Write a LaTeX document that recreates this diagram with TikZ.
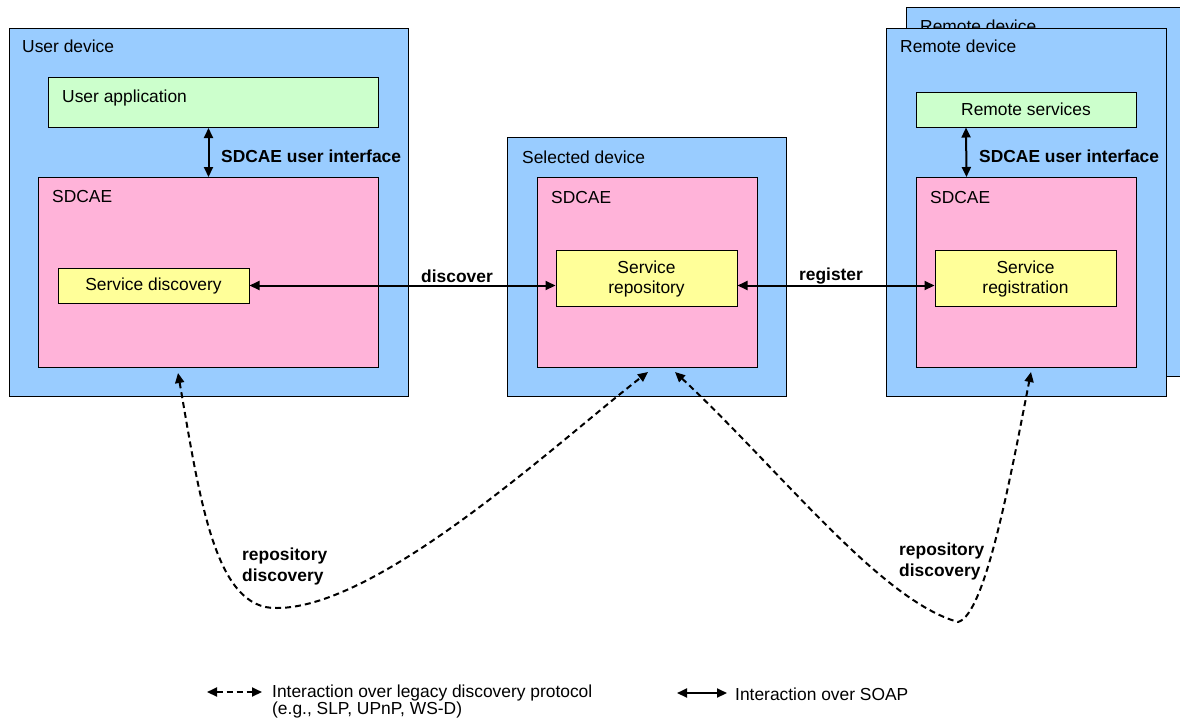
\documentclass[tikz,border=0pt]{standalone}
\usepackage{fontspec}
\setmainfont{Liberation Sans}
\usetikzlibrary{arrows.meta}

\definecolor{devblue}{HTML}{99CCFF}
\definecolor{sdpink}{HTML}{FFB3D9}
\definecolor{appgreen}{HTML}{CCFFCC}
\definecolor{svcyellow}{HTML}{FFFF99}

\newcommand{\diagfont}{\fontsize{17.4}{20.5}\selectfont}

\tikzset{
  box/.style={draw,rectangle,line width=1pt,inner sep=0pt},
  devbox/.style={box,fill=devblue,anchor=north west},
  sdbox/.style={box,fill=sdpink,anchor=north west},
  appbox/.style={box,fill=appgreen},
  svcbox/.style={box,fill=svcyellow,align=center},
  lbl/.style={inner sep=0pt,anchor=west,align=left,yshift=-1.5pt},
  blbl/.style={lbl,font=\diagfont\bfseries},
  soap/.style={line width=2pt,{Triangle[length=10pt,width=9pt]}-{Triangle[length=10pt,width=9pt]}},
  legacy/.style={soap,dash pattern=on 6pt off 4pt},
}

\begin{document}
\begin{tikzpicture}[x=1pt,y=-1pt,font=\diagfont]
\useasboundingbox (0,0) rectangle (1180,726);

%user device
\node [devbox,minimum width=399pt,minimum height=368pt] (userdev) at(9,28){};
\node [lbl] (userdevlbl) at(22,45){User device};
\node [appbox,anchor=north west,minimum width=330pt,minimum height=50pt] (userapp) at(48,77){};
\node [lbl] (userapplbl) at(62,96){User application};
\node [sdbox,minimum width=340pt,minimum height=190pt] (usersd) at(38,177){};
\node [lbl] (usersdlbl) at(52,195){SDCAE};
\node [svcbox,minimum width=191pt,minimum height=35pt] (sdisc) at(153.5,285.5){Service discovery};

%selected device
\node [devbox,minimum width=279pt,minimum height=259pt] (seldev) at(507,137){};
\node [lbl] (seldevlbl) at(522,156){Selected device};
\node [sdbox,minimum width=220pt,minimum height=190pt] (selsd) at(537,177){};
\node [lbl] (selsdlbl) at(551,196){SDCAE};
\node [svcbox,minimum width=181pt,minimum height=56pt] (srepo) at(646.5,278){\rule{0pt}{15pt}Service\\repository};

%remote devices
\node [devbox,minimum width=300pt,minimum height=369pt] (remback) at(906,7){};
\node [lbl] (rembacklbl) at(920,25){Remote device};
\node [devbox,minimum width=280pt,minimum height=368pt] (remdev) at(886,28){};
\node [lbl] (remdevlbl) at(900,45){Remote device};
\node [appbox,minimum width=220pt,minimum height=35pt] (remserv) at(1026,109.5){Remote services};
\node [sdbox,minimum width=220pt,minimum height=190pt] (remsd) at(916,177){};
\node [lbl] (remsdlbl) at(930,196){SDCAE};
\node [svcbox,minimum width=181pt,minimum height=56pt] (sreg) at(1025.5,278){\rule{0pt}{15pt}Service\\registration};

%soap interactions
\draw[soap] (usersd.north |- userapp.south) -- (usersd.north);
\node [blbl] (uilbl) at(221,155){SDCAE user interface};
\draw[soap] ([xshift=-60pt]remserv.south) -- ([xshift=-60pt]remsd.north);
\node [blbl] (remuilbl) at(979,155){SDCAE user interface};

\draw[soap] (sdisc.east) -- (sdisc.east -| srepo.west);
\node [blbl,anchor=center] (disclbl) at(457,275){discover};
\draw[soap] (srepo.east |- sdisc.east) -- (sreg.west |- sdisc.east);
\node [blbl,anchor=center] (reglbl) at(831,275){register};

%legacy discovery
\coordinate (ua) at(178,373);
\coordinate (ra) at(648,372);
\coordinate (rb) at(675,372);
\coordinate (ma) at(1031,372);
\draw[legacy] (ua) .. controls (200,500) and (215,610) .. (277,608)
   .. controls (380,608) and (560,440) .. (ra);
\node [blbl] (repdisc1) at(242,565){repository\\discovery};
\draw[legacy] (rb) .. controls (780,470) and (880,600) .. (958,622)
   .. controls (985,615) and (1010,480) .. (ma);
\node [blbl] (repdisc2) at(899,560){repository\\discovery};

%legend
\coordinate (l1a) at(207,692);
\coordinate (l1b) at(262,692);
\draw[legacy] (l1a) -- (l1b);
\node [lbl] (legacylbl) at(272,700){Interaction over legacy discovery protocol\\[-3pt](e.g., SLP, UPnP, WS-D)};
\coordinate (l2a) at(677,693);
\coordinate (l2b) at(727,693);
\draw[soap] (l2a) -- (l2b);
\node [lbl] (soaplbl) at(735,693){Interaction over SOAP};

\end{tikzpicture}
\end{document}
